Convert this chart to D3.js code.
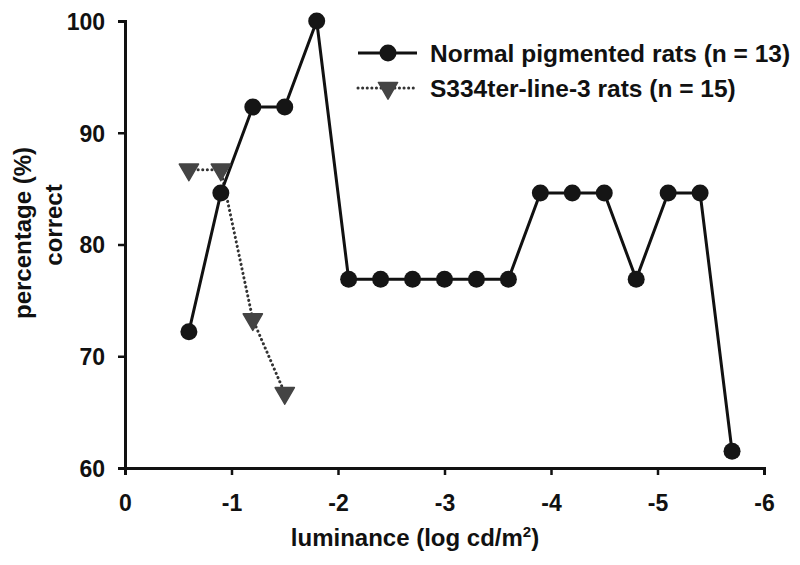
<!DOCTYPE html>
<html>
<head>
<meta charset="utf-8">
<script src="https://cdn.jsdelivr.net/npm/d3@7"></script>
<style>
  html, body { margin: 0; padding: 0; background: #fff; }
  text { font-family: "Liberation Sans", Arial, sans-serif; font-weight: bold; fill: #111; }
</style>
</head>
<body>
<svg id="chart" width="800" height="565"></svg>
<script>
// ---- data ----
const normalX = [-0.6, -0.9, -1.2, -1.5, -1.8, -2.1, -2.4, -2.7, -3.0, -3.3, -3.6, -3.9, -4.2, -4.5, -4.8, -5.1, -5.4, -5.7];
const normalY = [72.2, 84.6, 92.3, 92.3, 100, 76.9, 76.9, 76.9, 76.9, 76.9, 76.9, 84.6, 84.6, 84.6, 76.9, 84.6, 84.6, 61.5];
const s334X = [-0.6, -0.9, -1.2, -1.5];
const s334Y = [86.7, 86.7, 73.3, 66.7];
const xTicks = [0, -1, -2, -3, -4, -5, -6];
const yTicks = [60, 70, 80, 90, 100];
const seriesNames = ["Normal pigmented rats (n = 13)", "S334ter-line-3 rats (n = 15)"];

const svg = d3.select("#chart");
const x = d3.scaleLinear().domain([0, -6]).range([125, 764]);
const y = d3.scaleLinear().domain([60, 100]).range([468, 21]);

// axes
const xAxis = svg.append("g").attr("transform", "translate(0,468)")
  .call(d3.axisBottom(x).tickValues(xTicks).tickFormat(d3.format("d")).tickSize(7).tickPadding(20));
const yAxis = svg.append("g").attr("transform", "translate(125,0)")
  .call(d3.axisLeft(y).tickValues(yTicks).tickSize(7).tickPadding(13));
[xAxis, yAxis].forEach(g => {
  g.select(".domain").attr("stroke", "#111").attr("stroke-width", 3);
  g.selectAll(".tick line").attr("stroke", "#111").attr("stroke-width", 2.5);
  g.selectAll(".tick text").attr("font-size", 23).attr("font-family", "Liberation Sans, Arial, sans-serif")
    .attr("font-weight", "bold").attr("fill", "#111");
});
xAxis.selectAll(".tick text").text(d => d === 0 ? "0" : "-" + Math.abs(d));
yAxis.selectAll(".tick text").attr("dy", "0.36em");

// axis titles
const xt = svg.append("text").attr("x", 415).attr("y", 546).attr("text-anchor", "middle").attr("font-size", 24);
xt.append("tspan").text("luminance (log cd/m");
xt.append("tspan").attr("font-size", 15).attr("dy", -9).text("2");
xt.append("tspan").attr("dy", 9).text(")");

svg.append("text").attr("transform", "translate(31,233) rotate(-90)").attr("text-anchor", "middle")
  .attr("font-size", 24).text("percentage (%)");
svg.append("text").attr("transform", "translate(62,225) rotate(-90)").attr("text-anchor", "middle")
  .attr("font-size", 24).text("correct");

// data
const normal = normalX.map((v, i) => ({ x: v, y: normalY[i] }));
const s334 = s334X.map((v, i) => ({ x: v, y: s334Y[i] }));
const line = d3.line().x(d => x(d.x)).y(d => y(d.y));

svg.append("path").datum(s334).attr("d", line).attr("fill", "none")
  .attr("stroke", "#333").attr("stroke-width", 3).attr("stroke-linecap", "round")
  .attr("stroke-dasharray", "0.1,4.5");
svg.append("path").datum(normal).attr("d", line).attr("fill", "none")
  .attr("stroke", "#111").attr("stroke-width", 3);

const tri = d3.symbol().type(d3.symbolTriangle).size(160);
svg.selectAll(".tri").data(s334).join("path").attr("class", "tri")
  .attr("d", tri).attr("transform", d => `translate(${x(d.x)},${y(d.y)}) rotate(180)`)
  .attr("fill", "#444").attr("stroke", "#444").attr("stroke-width", 1.5).attr("stroke-linejoin", "round");
svg.selectAll(".dot").data(normal).join("circle").attr("class", "dot")
  .attr("cx", d => x(d.x)).attr("cy", d => y(d.y)).attr("r", 8.5).attr("fill", "#151515");

// legend
const legRows = [53, 88];
const lg = svg.append("g");
lg.append("line").attr("x1", 358).attr("x2", 417).attr("y1", legRows[0]).attr("y2", legRows[0])
  .attr("stroke", "#111").attr("stroke-width", 3);
lg.append("circle").attr("cx", 388).attr("cy", legRows[0]).attr("r", 8.5).attr("fill", "#151515");
lg.append("line").attr("x1", 358).attr("x2", 417).attr("y1", legRows[1]).attr("y2", legRows[1])
  .attr("stroke", "#333").attr("stroke-width", 3).attr("stroke-linecap", "round").attr("stroke-dasharray", "0.1,4.5");
lg.append("path").attr("d", tri).attr("transform", `translate(388,${legRows[1]}) rotate(180)`)
  .attr("fill", "#444").attr("stroke", "#444").attr("stroke-width", 1.5).attr("stroke-linejoin", "round");
seriesNames.forEach((n, i) => {
  lg.append("text").attr("x", 430).attr("y", legRows[i] + 8.5).attr("font-size", 24.5).text(n);
});
</script>
</body>
</html>
